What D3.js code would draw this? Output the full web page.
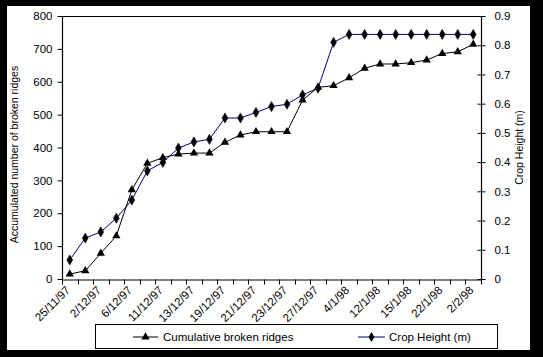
<!DOCTYPE html>
<html><head><meta charset="utf-8">
<script src="https://cdn.jsdelivr.net/npm/d3@7"></script>
<style>body{margin:0;background:#000;}svg{display:block;}text{font-family:"Liberation Sans",Arial,sans-serif;}</style>
</head><body><svg id="c" width="543" height="357"></svg>
<script>
const dates = ["25/11/97","28/11/97","2/12/97","4/12/97","6/12/97","9/12/97","11/12/97","12/12/97","13/12/97","16/12/97","19/12/97","20/12/97","21/12/97","22/12/97","23/12/97","24/12/97","27/12/97","30/12/97","4/1/98","8/1/98","12/1/98","13/1/98","15/1/98","19/1/98","22/1/98","27/1/98","2/2/98"];
const cumulativeBroken = [15,25,78,131,271,352,369,380,383,383,416,438,448,448,448,544,583,588,612,641,654,654,658,666,686,691,714];
const cropHeight = [0.065,0.14,0.161,0.208,0.27,0.37,0.399,0.448,0.469,0.478,0.551,0.551,0.57,0.59,0.598,0.63,0.653,0.81,0.837,0.837,0.837,0.837,0.837,0.837,0.837,0.837,0.837];
const leftTicks = [0,100,200,300,400,500,600,700,800];
const rightTicks = [0,0.1,0.2,0.3,0.4,0.5,0.6,0.7,0.8,0.9];

const svg = d3.select("#c");
svg.append("rect").attr("x",0).attr("y",0).attr("width",543).attr("height",357).attr("fill","#000");
svg.append("rect").attr("x",7).attr("y",6).attr("width",523).attr("height",344).attr("fill","#fff");

const L=62,R=481,T=16,B=279;
const x = d3.scaleBand().domain(dates).range([L,R]).padding(0);
const yL = d3.scaleLinear().domain([0,800]).range([B,T]);
const yR = d3.scaleLinear().domain([0,0.9]).range([B,T]);
const cx = d => x(d)+x.bandwidth()/2;

svg.append("line").attr("x1",L).attr("x2",R).attr("y1",T+0.5).attr("y2",T+0.5).attr("stroke","#000");

const gL = svg.append("g").attr("transform",`translate(${L+0.5},0)`)
  .call(d3.axisLeft(yL).tickValues(leftTicks).tickSize(5).tickPadding(5).tickFormat(d3.format("d")));
const gR = svg.append("g").attr("transform",`translate(${R+0.5},0)`)
  .call(d3.axisRight(yR).tickValues(rightTicks).tickSize(4).tickPadding(9).tickFormat(d=>d===0?"0":d3.format(".1f")(d)));
gR.selectAll(".tick line").attr("x1",-4).attr("x2",4);
const gB = svg.append("g").attr("transform",`translate(0,${B+0.5})`)
  .call(d3.axisBottom(x).tickSize(0).tickFormat(""));
const edges = dates.map(d=>x(d)).concat([R]);
gB.selectAll(".edge").data(edges).enter().append("line").attr("class","edge")
  .attr("x1",d=>Math.round(d)+0.5).attr("x2",d=>Math.round(d)+0.5).attr("y1",0).attr("y2",5).attr("stroke","#000");
[gL,gR,gB].forEach(g=>{g.select(".domain").attr("stroke","#000").attr("stroke-width",1.2);
  g.selectAll(".tick line").attr("stroke","#000");
  g.selectAll("text").attr("font-size",11.5).attr("fill","#000").attr("font-family","Liberation Sans, Arial, sans-serif");});
gR.select(".domain").attr("d",`M0,${T}V${B}`);
gL.select(".domain").attr("d",`M0,${T}V${B}`);

svg.append("g").selectAll("text").data(dates.filter((d,i)=>i%2===0)).enter().append("text")
  .attr("transform",d=>`translate(${cx(d)+1},${B+12}) rotate(-45)`)
  .attr("text-anchor","end").attr("font-size",11.5).attr("fill","#000").text(d=>d);

const lineL = d3.line().x((d,i)=>cx(dates[i])).y(d=>yL(d));
const lineR = d3.line().x((d,i)=>cx(dates[i])).y(d=>yR(d));
svg.append("path").attr("d",lineR(cropHeight)).attr("fill","none").attr("stroke","#000080").attr("stroke-width",1);
svg.append("path").attr("d",lineL(cumulativeBroken)).attr("fill","none").attr("stroke","#000").attr("stroke-width",1);

const tri = d3.symbol().type(d3.symbolTriangle).size(30);
const dia = d3.symbol().type(d3.symbolDiamond).size(30);
svg.append("g").selectAll("path").data(cropHeight).enter().append("path")
  .attr("d",dia).attr("transform",(d,i)=>`translate(${cx(dates[i])},${yR(d)})`).attr("fill","#000").attr("stroke","#000010").attr("stroke-width",0.5);
svg.append("g").selectAll("path").data(cumulativeBroken).enter().append("path")
  .attr("d",tri).attr("transform",(d,i)=>`translate(${cx(dates[i])},${yL(d)})`).attr("fill","#000");

svg.append("text").attr("transform",`translate(18,${(T+B)/2+7}) rotate(-90)`).attr("text-anchor","middle")
  .attr("font-size",10.5).text("Accumulated number of broken ridges");
svg.append("text").attr("transform",`translate(523,${(T+B)/2}) rotate(-90)`).attr("text-anchor","middle")
  .attr("font-size",10.5).text("Crop Height (m)");

const lg = svg.append("g");
lg.append("rect").attr("x",95.5).attr("y",324.5).attr("width",402).attr("height",24).attr("fill","#fff").attr("stroke","#000");
const ly = 337;
lg.append("line").attr("x1",133).attr("x2",158).attr("y1",ly).attr("y2",ly).attr("stroke","#000");
lg.append("path").attr("d",tri).attr("transform",`translate(145.5,${ly})`).attr("fill","#000");
lg.append("text").attr("x",163).attr("y",ly+4).attr("font-size",11.5).text("Cumulative broken ridges");
lg.append("line").attr("x1",358).attr("x2",385).attr("y1",ly).attr("y2",ly).attr("stroke","#000080");
lg.append("path").attr("d",dia).attr("transform",`translate(371.5,${ly})`).attr("fill","#000");
lg.append("text").attr("x",389).attr("y",ly+4).attr("font-size",11.5).text("Crop Height (m)");
</script></body></html>
